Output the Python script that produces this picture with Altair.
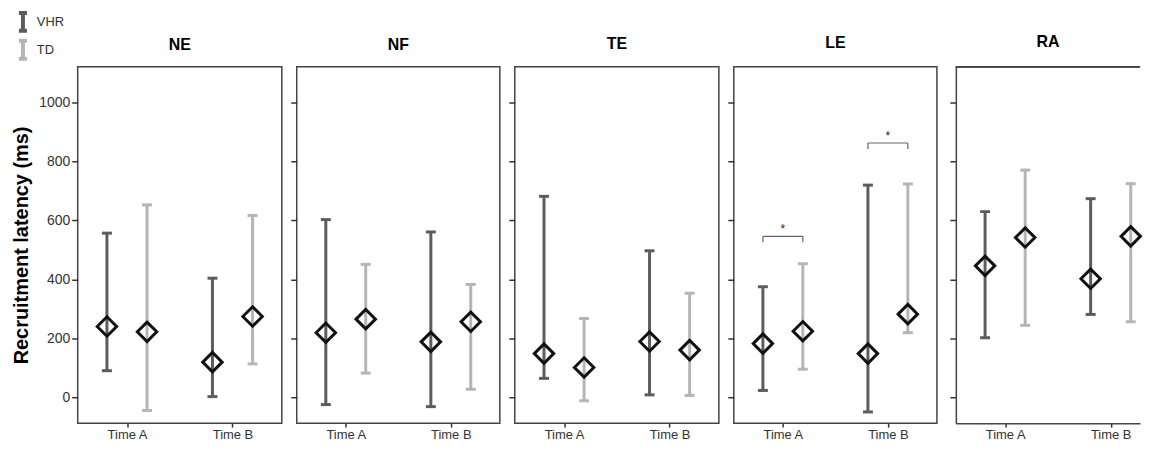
import altair as alt
import pandas as pd

panels = ["NE", "NF", "TE", "LE", "RA"]
times = ["Time A", "Time B"]
groups = ["VHR", "TD"]

# [Time A, Time B] per panel
vhr_mean = [[240, 119], [219, 188], [148, 189], [182, 148], [446, 402]]
vhr_low = [[90, 2], [-25, -32], [64, 8], [23, -50], [202, 281]]
vhr_high = [[557, 404], [603, 561], [682, 497], [375, 720], [630, 674]]
td_mean = [[222, 274], [265, 256], [101, 160], [224, 282], [542, 546]]
td_low = [[-45, 113], [82, 27], [-12, 6], [95, 219], [244, 256]]
td_high = [[653, 617], [451, 383], [267, 353], [453, 724], [771, 725]]

# significance brackets: panel, time, level
sig_panel = ["LE", "LE"]
sig_time = ["Time A", "Time B"]
sig_level = [546, 863]
sig_label = ["*", "*"]

colors = ["#5c5c5c", "#b5b5b5"]
FONT = "Liberation Sans"
OFFSET = 0.19
LEG = 20
YMIN, YMAX = -88, 1122
PLOT_H = 358

rows = []
for pi, p in enumerate(panels):
    for ti, t in enumerate(times):
        for g, m, lo, hi in [("VHR", vhr_mean, vhr_low, vhr_high), ("TD", td_mean, td_low, td_high)]:
            rows.append(dict(panel=p, time=t, tidx=ti, group=g,
                             mean=m[pi][ti], low=lo[pi][ti], high=hi[pi][ti]))
df = pd.DataFrame(rows)

sig = pd.DataFrame(dict(panel=sig_panel, time=sig_time, level=sig_level, label=sig_label))
sig["tidx"] = sig["time"].map({t: i for i, t in enumerate(times)})

label_expr = "datum.value == 0 ? '%s' : '%s'" % (times[0], times[1])

legend = alt.Legend(
    title=None, orient="none", legendX=-66, legendY=-56,
    symbolType="M-0.45,-1H0.45M0,-1V1M-0.45,1H0.45",
    symbolSize=324, symbolStrokeWidth=4, symbolFillColor="transparent",
    labelFontSize=13, labelFont=FONT, labelColor="#333333", rowPadding=-6,
    labelOffset=3,
)


def panel(p, idx, width, xmax, title_offset, last=False):
    d = df[df.panel == p]
    base = alt.Chart(d).transform_calculate(
        xpos="datum.tidx + (datum.group == 'VHR' ? -%f : %f)" % (OFFSET, OFFSET)
    )
    x = alt.X("xpos:Q",
              scale=alt.Scale(domain=[-0.467, xmax], nice=False, zero=False),
              axis=alt.Axis(values=[0, 1], labelExpr=label_expr, title=None, grid=False,
                            domain=last, domainColor="#444444", domainWidth=1.5,
                            tickSize=4, tickColor="#333333", tickWidth=1.5,
                            labelFontSize=13, labelFont=FONT, labelColor="#333333",
                            labelPadding=1))
    yaxis = alt.Axis(values=[0, 200, 400, 600, 800, 1000], format="d", grid=False,
                     domain=last, domainColor="#444444", domainWidth=1.5,
                     tickSize=6, tickColor="#333333", tickWidth=1.5,
                     labels=(idx == 0), labelFontSize=14, labelFont=FONT,
                     labelColor="#333333", labelPadding=2,
                     title="Recruitment latency (ms)" if idx == 0 else None,
                     titleFontSize=20, titleFont=FONT, titleFontWeight="bold",
                     titleColor="black", titlePadding=7)
    yscale = alt.Scale(domain=[YMIN, YMAX], nice=False, zero=False)
    color = alt.Color("group:N", scale=alt.Scale(domain=groups, range=colors), legend=legend)

    stem = base.mark_rule(strokeWidth=3).encode(
        x=x, y=alt.Y("low:Q", scale=yscale, axis=yaxis), y2="high:Q", color=color)
    cap_lo = base.mark_tick(size=10, thickness=3, opacity=1, orient="horizontal").encode(
        x=x, y=alt.Y("low:Q", scale=yscale), color=color)
    cap_hi = base.mark_tick(size=10, thickness=3, opacity=1, orient="horizontal").encode(
        x=x, y=alt.Y("high:Q", scale=yscale), color=color)
    dia = base.mark_point(shape="diamond", size=380, strokeWidth=3, color="#111111",
                          filled=False, opacity=1).encode(
        x=x, y=alt.Y("mean:Q", scale=yscale))
    layers = [stem, cap_lo, cap_hi, dia]

    s = sig[sig.panel == p]
    if len(s):
        sb = alt.Chart(s).transform_calculate(
            x1="datum.tidx - %f" % OFFSET, x2="datum.tidx + %f" % OFFSET,
            leg="datum.level - %d" % LEG)
        layers.append(sb.mark_rule(color="#666666", strokeWidth=1.2).encode(
            x=alt.X("x1:Q", scale=alt.Scale(domain=[-0.467, xmax], nice=False, zero=False)),
            x2="x2:Q", y=alt.Y("level:Q", scale=yscale)))
        layers.append(sb.mark_rule(color="#666666", strokeWidth=1.2).encode(
            x=alt.X("x1:Q"), y=alt.Y("level:Q", scale=yscale), y2="leg:Q"))
        layers.append(sb.mark_rule(color="#666666", strokeWidth=1.2).encode(
            x=alt.X("x2:Q"), y=alt.Y("level:Q", scale=yscale), y2="leg:Q"))
        layers.append(sb.mark_text(fontSize=12, font=FONT, color="#222222", dy=-7).encode(
            x=alt.X("tidx:Q"), y=alt.Y("level:Q", scale=yscale), text="label:N"))
    if last:
        layers.append(alt.Chart(d).mark_rule(color="#444444", strokeWidth=1.5).encode(
            x=alt.value(0), x2=alt.value(width), y=alt.value(0)))

    ch = alt.layer(*layers).properties(
        width=width, height=PLOT_H,
        title=alt.TitleParams(p, fontSize=16, font=FONT, fontWeight="bold", color="black",
                              anchor="middle", offset=title_offset))
    if last:
        ch = ch.properties(view=alt.ViewBackground(stroke=None))
    return ch


left = alt.hconcat(
    panel("NE", 0, 205, 1.467, 14),
    panel("NF", 1, 204, 1.467, 14),
    panel("TE", 2, 205, 1.467, 15),
    panel("LE", 3, 204, 1.467, 16),
    spacing=6,
)
chart = alt.hconcat(left, panel("RA", 4, 185, 1.278, 16, last=True), spacing=11).properties(
    padding={"left": 3, "top": 2, "right": 0, "bottom": 0}
).configure(font=FONT).configure_view(stroke="#444444", strokeWidth=1.5)

chart.save("out.html", embed_options={"renderer": "svg", "actions": False})
